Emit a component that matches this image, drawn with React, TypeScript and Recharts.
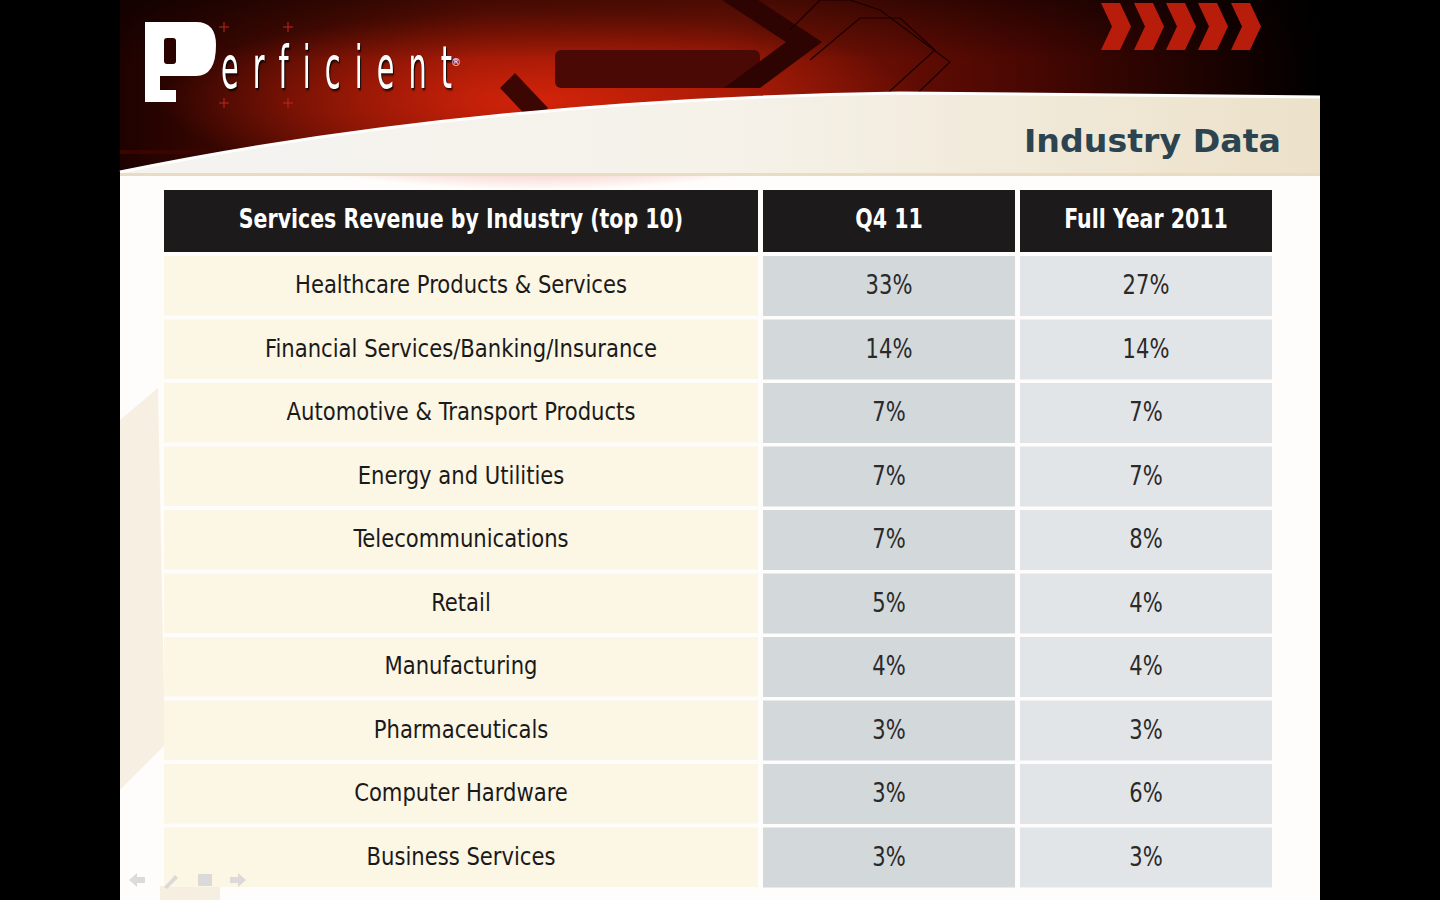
import { BarChart, Bar, XAxis, YAxis } from 'recharts';

const industries = [
  'Healthcare Products & Services',
  'Financial Services/Banking/Insurance',
  'Automotive & Transport Products',
  'Energy and Utilities',
  'Telecommunications',
  'Retail',
  'Manufacturing',
  'Pharmaceuticals',
  'Computer Hardware',
  'Business Services',
];
const q4Share = [33, 14, 7, 7, 7, 5, 4, 3, 3, 3];
const fullYearShare = [27, 14, 7, 7, 8, 4, 4, 3, 6, 3];
const columnTitles = ['Services Revenue by Industry (top 10)', 'Q4 11', 'Full Year 2011'];

const rows = industries.map((industry, i) => ({ industry, q4: q4Share[i], fy: fullYearShare[i] }));

const NARROW = "'Liberation Sans Narrow', 'DejaVu Sans Condensed', 'Roboto Condensed', sans-serif";
const COLS = [
  { x: 164, w: 594, fill: '#fcf6e5' },
  { x: 763, w: 252, fill: '#d3d8db' },
  { x: 1020, w: 252, fill: '#e2e5e8' },
];
const ROW_H = 59.5;

// condensed text: squeeze horizontally around its anchor point
function Squeezed({ cx, cy, sx, children, ...rest }: any) {
  return (
    <text transform={`translate(${cx},${cy}) scale(${sx},1)`} x={0} y={0} textAnchor="middle" {...rest}>
      {children}
    </text>
  );
}

function IndustryTick(props: any) {
  const { y, payload } = props;
  const c = COLS[0];
  return (
    <g>
      <rect x={c.x} y={y - ROW_H / 2} width={c.w} height={ROW_H} fill={c.fill} />
      <Squeezed cx={c.x + c.w / 2} cy={y + 7.5} sx={0.94} fontFamily={NARROW} fontSize={25} fill="#1a1a1a">
        {payload.value}
      </Squeezed>
    </g>
  );
}

function valueCell(col: number, key: 'q4' | 'fy') {
  return (props: any) => {
    const { y, height, payload } = props;
    const c = COLS[col];
    return (
      <g>
        <rect x={c.x} y={y} width={c.w} height={height} fill={c.fill} />
        <Squeezed cx={c.x + c.w / 2} cy={y + height / 2 + 8} sx={0.9} fontFamily={NARROW} fontSize={26} fill="#2a2a2a">
          {payload[key]}%
        </Squeezed>
      </g>
    );
  };
}

function Backdrop() {
  const chevrons = [1101, 1134, 1166, 1198, 1231];
  return (
    <svg width={1440} height={900} style={{ position: 'absolute', left: 0, top: 0 }}>
      <defs>
        <linearGradient id="hdr" x1="0" y1="0" x2="1" y2="0">
          <stop offset="0" stopColor="#1e0200" />
          <stop offset="0.3" stopColor="#7a1204" />
          <stop offset="0.5" stopColor="#861505" />
          <stop offset="0.75" stopColor="#4a0702" />
          <stop offset="1" stopColor="#000" />
        </linearGradient>
        <radialGradient id="glow" cx="0.5" cy="0.5" r="0.5">
          <stop offset="0" stopColor="#d8240a" stopOpacity="0.95" />
          <stop offset="1" stopColor="#d8240a" stopOpacity="0" />
        </radialGradient>
        <linearGradient id="topShade" x1="0" y1="0" x2="0" y2="1">
          <stop offset="0" stopColor="#000" stopOpacity="0.45" />
          <stop offset="1" stopColor="#000" stopOpacity="0" />
        </linearGradient>
        <linearGradient id="swoosh" x1="0" y1="0" x2="1" y2="0">
          <stop offset="0" stopColor="#f4f3f0" />
          <stop offset="0.5" stopColor="#f6f2ea" />
          <stop offset="1" stopColor="#ece1c9" />
        </linearGradient>
      </defs>
      <rect width={1440} height={900} fill="#000" />
      <rect x={120} y={0} width={1200} height={900} fill="#fefdfb" />
      <rect x={120} y={0} width={1200} height={176} fill="url(#hdr)" />
      <ellipse cx={540} cy={100} rx={380} ry={90} fill="url(#glow)" />
      <rect x={120} y={0} width={1200} height={60} fill="url(#topShade)" />
      <rect x={120} y={150} width={190} height={4} fill="#3a0400" />
      {/* arrow decorations */}
      <rect x={555} y={50} width={205} height={38} rx={6} fill="#4a0905" />
      <polygon points="500,88 515,73 548,108 533,123" fill="#3c0603" />
      <polygon points="722,0 758,0 822,42 760,88 724,88 786,42" fill="#2e0402" />
      <polyline points="790,30 820,0 850,0 880,10 950,62 900,110" fill="none" stroke="#1a0000" strokeWidth={1.2} />
      <polyline points="810,60 860,18 900,18 935,50 880,100" fill="none" stroke="#1a0000" strokeWidth={1.2} />
      {chevrons.map((x) => (
        <polygon key={x} points={`${x},3 ${x + 19},3 ${x + 30},26.5 ${x + 19},50 ${x},50 ${x + 11},26.5`} fill="#b81d0b" />
      ))}
      {/* swoosh */}
      <path d="M120,172 Q470,100 900,93 L1320,97 L1320,176 L120,176 Z" fill="url(#swoosh)" />
      <path d="M120,172 Q470,100 900,93 L1320,97" fill="none" stroke="#fff" strokeWidth={3} />
      <rect x={120} y={173} width={1200} height={3} fill="#e9dcc2" />
      {/* logo */}
      <path d="M145,22 L196,22 Q216,22 216,45 Q216,76 196,76 L160,76 L160,90 L176,90 L176,102 L145,102 Z" fill="#fff" />
      <rect x={164} y={38} width={12} height={26} rx={3} fill="#2a0300" />
      <text
        transform="translate(221,88) scale(0.55,1)"
        x={0}
        y={0}
        fontFamily={NARROW}
        fontSize={58}
        fill="#fff"
        textLength={420}
        lengthAdjust="spacing"
        style={{ fontVariantLigatures: 'none', filter: 'drop-shadow(2px 2px 1px rgba(0,0,0,0.8))' }}
      >
        erficient
      </text>
      <text x={451} y={66} fontFamily="'DejaVu Sans', sans-serif" fontSize={10} fill="#fff">®</text>
      {[[224, 27], [288, 27], [224, 103], [288, 103]].map(([cx, cy]) => (
        <g key={`${cx}-${cy}`} stroke="#c0281a" strokeWidth={1}>
          <line x1={cx - 5} y1={cy} x2={cx + 5} y2={cy} />
          <line x1={cx} y1={cy - 5} x2={cx} y2={cy + 5} />
        </g>
      ))}
      <text x={1281} y={152} textAnchor="end" fontFamily="'DejaVu Sans', Verdana, sans-serif" fontWeight="bold" fontSize={32} fill="#2b4450" textLength={257} lengthAdjust="spacingAndGlyphs">
        Industry Data
      </text>
      {/* faint side pattern */}
      <polygon points="120,420 158,388 165,745 120,790" fill="#f7f0e2" />
      <rect x={160} y={886} width={60} height={14} fill="#f6eee1" />
      {/* table header */}
      {COLS.map((c, i) => (
        <g key={c.x}>
          <rect x={c.x} y={190} width={c.w} height={62} fill="#1c1a1a" />
          <Squeezed cx={c.x + c.w / 2} cy={228} sx={0.845} fontFamily={NARROW} fontWeight="bold" fontSize={27} fill="#fff">
            {columnTitles[i]}
          </Squeezed>
        </g>
      ))}
    </svg>
  );
}

function NavIcons() {
  return (
    <svg width={1440} height={900} style={{ position: 'absolute', left: 0, top: 0, pointerEvents: 'none' }}>
      <g fill="#d6d6d6" opacity={0.85}>
        <polygon points="129,880 137,873 137,877 145,877 145,883 137,883 137,887" />
        <polygon points="164,887 175,875 178,878 167,889" />
        <rect x={198} y={874} width={14} height={12} />
        <polygon points="246,880 238,873 238,877 230,877 230,883 238,883 238,887" />
      </g>
    </svg>
  );
}

export default function App() {
  return (
    <div style={{ position: 'absolute', left: 0, top: 0, width: 1440, height: 900 }}>
      <Backdrop />
      <div style={{ position: 'absolute', left: 0, top: 0 }}>
        <BarChart
          layout="vertical"
          width={1440}
          height={900}
          data={rows}
          margin={{ top: 254, right: 168, bottom: 11, left: 0 }}
          barCategoryGap={2}
        >
          <XAxis type="number" hide domain={[0, 80]} />
          <YAxis
            type="category"
            dataKey="industry"
            width={164}
            axisLine={false}
            tickLine={false}
            interval={0}
            tick={<IndustryTick />}
          />
          <Bar dataKey="q4" stackId="t" isAnimationActive={false} shape={valueCell(1, 'q4')} />
          <Bar dataKey="fy" stackId="t" isAnimationActive={false} shape={valueCell(2, 'fy')} />
        </BarChart>
      </div>
      <NavIcons />
    </div>
  );
}
